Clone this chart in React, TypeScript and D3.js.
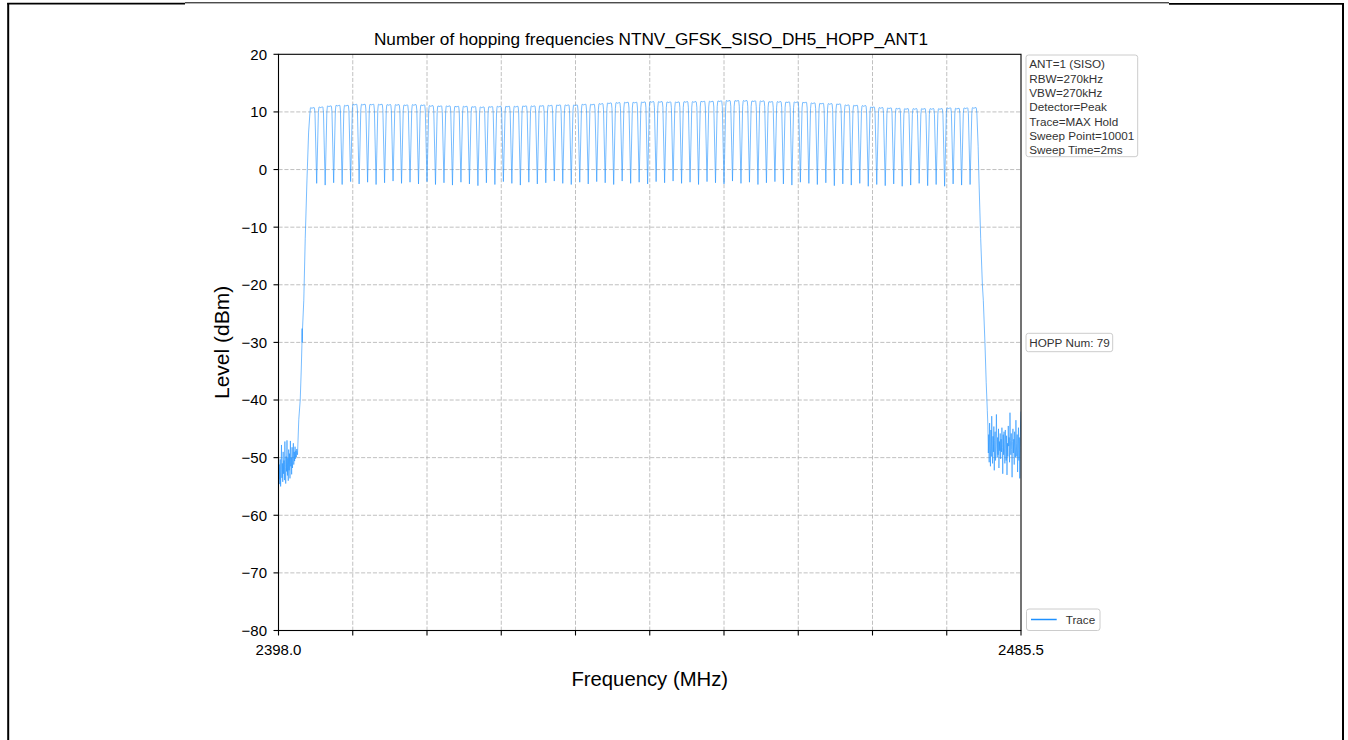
import React from "react";
import * as d3 from "d3";

// ---------- DATA ----------
const TITLE = "Number of hopping frequencies NTNV_GFSK_SISO_DH5_HOPP_ANT1";
const X_LABEL = "Frequency (MHz)";
const Y_LABEL = "Level (dBm)";
const X_MIN = 2398.0;
const X_MAX = 2485.5;
const X_TICK_LABELS = ["2398.0", "", "", "", "", "", "", "", "", "", "2485.5"];
const X_TICKS = [2398.0, 2406.75, 2415.5, 2424.25, 2433.0, 2441.75, 2450.5, 2459.25, 2468.0, 2476.75, 2485.5];
const Y_TICKS = [20, 10, 0, -10, -20, -30, -40, -50, -60, -70, -80];
const INFO_LINES = [
  "ANT=1 (SISO)",
  "RBW=270kHz",
  "VBW=270kHz",
  "Detector=Peak",
  "Trace=MAX Hold",
  "Sweep Point=10001",
  "Sweep Time=2ms",
];
const HOPP_TEXT = "HOPP Num: 79";
const LEGEND_LABEL = "Trace";

// hopping channel centre frequencies (MHz)
const channelFreqs = [
  2402, 2403, 2404, 2405, 2406, 2407, 2408, 2409, 2410, 2411,
  2412, 2413, 2414, 2415, 2416, 2417, 2418, 2419, 2420, 2421,
  2422, 2423, 2424, 2425, 2426, 2427, 2428, 2429, 2430, 2431,
  2432, 2433, 2434, 2435, 2436, 2437, 2438, 2439, 2440, 2441,
  2442, 2443, 2444, 2445, 2446, 2447, 2448, 2449, 2450, 2451,
  2452, 2453, 2454, 2455, 2456, 2457, 2458, 2459, 2460, 2461,
  2462, 2463, 2464, 2465, 2466, 2467, 2468, 2469, 2470, 2471,
  2472, 2473, 2474, 2475, 2476, 2477, 2478, 2479, 2480,
];
// peak level per channel (dBm)
const peakLevels = [
  10.76, 10.87, 11.05, 11.16, 11.16, 11.34, 11.34, 11.34, 11.34, 11.28,
  11.28, 11.22, 11.28, 11.22, 11.10, 11.05, 11.05, 10.99, 10.99, 10.93,
  10.87, 10.93, 10.99, 10.99, 10.99, 11.05, 11.05, 11.10, 11.16, 11.22,
  11.22, 11.22, 11.34, 11.34, 11.45, 11.57, 11.63, 11.69, 11.69, 11.74,
  11.80, 11.80, 11.74, 11.74, 11.80, 11.80, 11.86, 11.86, 11.92, 11.98,
  11.98, 11.98, 11.92, 11.92, 11.80, 11.80, 11.74, 11.74, 11.69, 11.57,
  11.51, 11.45, 11.40, 11.22, 11.16, 11.10, 10.87, 10.76, 10.70, 10.64,
  10.58, 10.58, 10.58, 10.58, 10.58, 10.70, 10.64, 10.70, 10.76,
];
// minimum level between adjacent channels (dBm)
const dipLevels = [
  -2.4, -2.7, -2.3, -2.6, -2.1, -2.5, -2.2, -2.6, -2.3, -2.0,
  -2.4, -2.2, -2.5, -2.1, -2.6, -2.3, -2.7, -2.2, -2.5, -2.8,
  -2.3, -2.6, -2.1, -2.4, -2.7, -2.2, -2.5, -2.3, -2.0, -2.4,
  -2.6, -2.2, -2.5, -2.1, -2.3, -2.6, -2.0, -2.4, -2.2, -2.5,
  -2.1, -2.3, -2.0, -2.4, -2.2, -2.6, -2.1, -2.3, -2.5, -2.0,
  -2.4, -2.2, -2.6, -2.3, -2.1, -2.5, -2.7, -2.2, -2.4, -2.6,
  -2.3, -2.8, -2.5, -2.7, -2.4, -2.9, -2.6, -2.8, -2.5, -2.9,
  -2.7, -2.4, -2.8, -2.6, -2.9, -2.5, -2.7, -2.6,
];
// lower band edge: noise floor and rising skirt [MHz, dBm]
const lowerEdge: [number, number][] = [
  [2398.0, -49.5], [2398.05, -53.8], [2398.1, -51.2], [2398.15, -54.6], [2398.2, -50.3],
  [2398.25, -55.0], [2398.3, -52.1], [2398.35, -47.8], [2398.4, -53.5], [2398.45, -51.0],
  [2398.5, -54.2], [2398.55, -49.0], [2398.6, -52.8], [2398.65, -50.5], [2398.7, -53.9],
  [2398.75, -47.2], [2398.8, -51.7], [2398.85, -54.5], [2398.9, -49.8], [2398.95, -52.4],
  [2399.0, -47.0], [2399.05, -53.1], [2399.1, -50.1], [2399.15, -54.0], [2399.2, -48.6],
  [2399.25, -52.2], [2399.3, -49.3], [2399.35, -53.6], [2399.4, -47.1], [2399.45, -51.5],
  [2399.5, -50.0], [2399.55, -52.9], [2399.6, -48.2], [2399.65, -51.8], [2399.7, -49.6],
  [2399.75, -47.5], [2399.8, -51.2], [2399.85, -49.0], [2399.9, -50.6], [2399.95, -48.1],
  [2400.0, -50.2], [2400.05, -48.8], [2400.1, -49.9], [2400.15, -48.5], [2400.24, -49.5],
  [2400.39, -43.4], [2400.56, -40.0], [2400.68, -34.8], [2400.76, -30.5], [2400.78, -27.6],
  [2400.8, -30.0], [2400.82, -28.0], [2400.98, -22.7], [2401.15, -12.0], [2401.35, -2.0],
  [2401.55, 6.5],
];
// upper band edge: falling skirt and noise floor [MHz, dBm]
const upperEdge: [number, number][] = [
  [2480.45, 4.0], [2480.55, -2.0], [2480.75, -12.0], [2480.95, -20.0], [2481.06, -22.7],
  [2481.25, -30.0], [2481.4, -37.0], [2481.53, -41.8],
  [2481.6, -44.5], [2481.65, -49.2], [2481.7, -46.0], [2481.75, -50.8], [2481.8, -44.0],
  [2481.85, -48.5], [2481.9, -51.5], [2481.95, -45.2], [2482.0, -49.8], [2482.05, -42.8],
  [2482.1, -47.5], [2482.15, -51.0], [2482.2, -46.3], [2482.25, -49.0], [2482.3, -44.6],
  [2482.35, -52.2], [2482.4, -47.0], [2482.45, -45.5], [2482.5, -50.5], [2482.55, -48.0],
  [2482.6, -42.5], [2482.65, -47.8], [2482.7, -50.0], [2482.75, -46.5], [2482.8, -49.5],
  [2482.85, -45.0], [2482.9, -51.8], [2482.95, -47.2], [2483.0, -48.8], [2483.05, -45.8],
  [2483.1, -50.2], [2483.15, -46.8], [2483.2, -49.0], [2483.25, -44.8], [2483.3, -48.2],
  [2483.35, -52.8], [2483.4, -46.0], [2483.45, -49.5], [2483.5, -45.5], [2483.55, -48.5],
  [2483.6, -51.0], [2483.65, -45.2], [2483.7, -47.8], [2483.75, -50.5], [2483.8, -46.2],
  [2483.85, -53.0], [2483.9, -47.5], [2483.95, -49.8], [2484.0, -44.5], [2484.05, -48.0],
  [2484.1, -46.5], [2484.15, -50.8], [2484.2, -42.2], [2484.25, -47.0], [2484.3, -49.5],
  [2484.35, -45.8], [2484.4, -48.6], [2484.45, -53.4], [2484.5, -47.2], [2484.55, -45.0],
  [2484.6, -49.2], [2484.65, -46.8], [2484.7, -51.2], [2484.75, -45.5], [2484.8, -48.0],
  [2484.85, -50.0], [2484.9, -43.5], [2484.95, -47.5], [2485.0, -49.8], [2485.05, -46.0],
  [2485.1, -52.5], [2485.15, -47.8], [2485.2, -44.8], [2485.25, -50.5], [2485.3, -46.5],
  [2485.35, -53.6], [2485.4, -48.2], [2485.45, -44.0], [2485.5, -42.0],
];

// ---------- LAYOUT ----------
const W = 1348;
const H = 740;
const M = { left: 278.5, right: 1021, top: 54.3, bottom: 630.5 };
const FONT = "'Liberation Sans', Arial, Helvetica, sans-serif";
const TRACE_COLOR = "#1E90FF";

function buildTrace(): [number, number][] {
  const pts: [number, number][] = [...lowerEdge];
  channelFreqs.forEach((f, k) => {
    const p = peakLevels[k];
    if (k > 0) pts.push([f - 0.5, dipLevels[k - 1]]);
    pts.push([f - 0.3, p - 1.0]);
    pts.push([f - 0.24, p - 0.1]);
    pts.push([f - 0.2, p]);
    pts.push([f - 0.08, p - 0.12]);
    pts.push([f + 0.08, p - 0.05]);
    pts.push([f + 0.2, p]);
    pts.push([f + 0.24, p - 0.1]);
    pts.push([f + 0.3, p - 1.0]);
  });
  upperEdge.forEach((d) => pts.push(d));
  return pts;
}

export default function App() {
  const x = d3.scaleLinear().domain([X_MIN, X_MAX]).range([M.left, M.right]);
  const y = d3.scaleLinear().domain([-80, 20]).range([M.bottom, M.top]);
  const trace = buildTrace();
  const line = d3
    .line<[number, number]>()
    .x((d) => x(d[0]))
    .y((d) => y(d[1]));

  const gridColor = "#b0b0b0";
  const dash = "4.1,1.8";
  const tickLen = 5;
  const legendText = "#333333";
  const boxStroke = "#cccccc";

  return (
    <svg
      width={W}
      height={H}
      viewBox={`0 0 ${W} ${H}`}
      style={{ position: "absolute", left: 0, top: 0, background: "#fff" }}
      fontFamily={FONT}
    >
      <rect x={0} y={0} width={W} height={H} fill="#fff" />
      {/* outer frame */}
      <line x1={8.2} y1={3} x2={8.2} y2={H} stroke="#000" strokeWidth={2} />
      <line x1={1343} y1={3} x2={1343} y2={H} stroke="#000" strokeWidth={2} />
      <line x1={7.2} y1={3.6} x2={185} y2={3.6} stroke="#000" strokeWidth={1.6} />
      <line x1={185} y1={2.8} x2={1169} y2={2.8} stroke="#000" strokeWidth={1} />
      <line x1={1169} y1={3.8} x2={1344} y2={3.8} stroke="#000" strokeWidth={1.8} />

      {/* grid */}
      {X_TICKS.slice(1, -1).map((t) => (
        <line key={"gx" + t} x1={x(t)} x2={x(t)} y1={M.top} y2={M.bottom} stroke={gridColor} strokeWidth={0.8} strokeDasharray={dash} />
      ))}
      {Y_TICKS.slice(1, -1).map((t) => (
        <line key={"gy" + t} x1={M.left} x2={M.right} y1={y(t)} y2={y(t)} stroke={gridColor} strokeWidth={0.8} strokeDasharray={dash} />
      ))}

      {/* trace */}
      <defs>
        <clipPath id="plotclip">
          <rect x={M.left} y={M.top} width={M.right - M.left} height={M.bottom - M.top} />
        </clipPath>
      </defs>
      <path d={line(trace) || ""} fill="none" stroke={TRACE_COLOR} strokeWidth={0.6} clipPath="url(#plotclip)" />

      {/* spines */}
      <rect x={M.left} y={M.top} width={M.right - M.left} height={M.bottom - M.top} fill="none" stroke="#000" strokeWidth={1.1} />

      {/* y ticks */}
      {Y_TICKS.map((t) => (
        <g key={"yt" + t}>
          <line x1={M.left - tickLen} x2={M.left} y1={y(t)} y2={y(t)} stroke="#000" strokeWidth={1.1} />
          <text x={M.left - tickLen - 6.5} y={y(t) + 5.4} fontSize={15} textAnchor="end" fill="#000">
            {t < 0 ? "\u2212" + Math.abs(t) : String(t)}
          </text>
        </g>
      ))}
      {/* x ticks */}
      {X_TICKS.map((t, i) => (
        <g key={"xt" + t}>
          <line x1={x(t)} x2={x(t)} y1={M.bottom} y2={M.bottom + tickLen} stroke="#000" strokeWidth={1.1} />
          {X_TICK_LABELS[i] ? (
            <text x={x(t)} y={654.5} fontSize={15} textAnchor="middle" fill="#000">
              {X_TICK_LABELS[i]}
            </text>
          ) : null}
        </g>
      ))}

      {/* title & labels */}
      <text x={651} y={45} fontSize={17.2} textAnchor="middle" fill="#000">
        {TITLE}
      </text>
      <text x={(M.left + M.right) / 2} y={686} fontSize={20.3} textAnchor="middle" fill="#000">
        {X_LABEL}
      </text>
      <text transform={`translate(229,${(M.top + M.bottom) / 2}) rotate(-90)`} fontSize={21} textAnchor="middle" fill="#000">
        {Y_LABEL}
      </text>

      {/* info box */}
      <rect x={1026} y={55} width={111.7} height={101.7} rx={2.5} fill="#fff" stroke={boxStroke} strokeWidth={1} />
      {INFO_LINES.map((s, i) => (
        <text key={s} x={1029.3} y={68.3 + i * 14.3} fontSize={11.7} fill={legendText}>
          {s}
        </text>
      ))}
      {/* hopping number box */}
      <rect x={1026} y={333.3} width={86.7} height={18.4} rx={2.5} fill="#fff" stroke={boxStroke} strokeWidth={1} />
      <text x={1029.3} y={346.5} fontSize={11.7} fill={legendText}>
        {HOPP_TEXT}
      </text>
      {/* legend */}
      <rect x={1026.5} y={609} width={73.5} height={21.5} rx={2.5} fill="#fff" stroke={boxStroke} strokeWidth={1} />
      <line x1={1031} x2={1056.7} y1={619.5} y2={619.5} stroke={TRACE_COLOR} strokeWidth={1.5} />
      <text x={1065.7} y={623.5} fontSize={11.7} fill={legendText}>
        {LEGEND_LABEL}
      </text>
    </svg>
  );
}
